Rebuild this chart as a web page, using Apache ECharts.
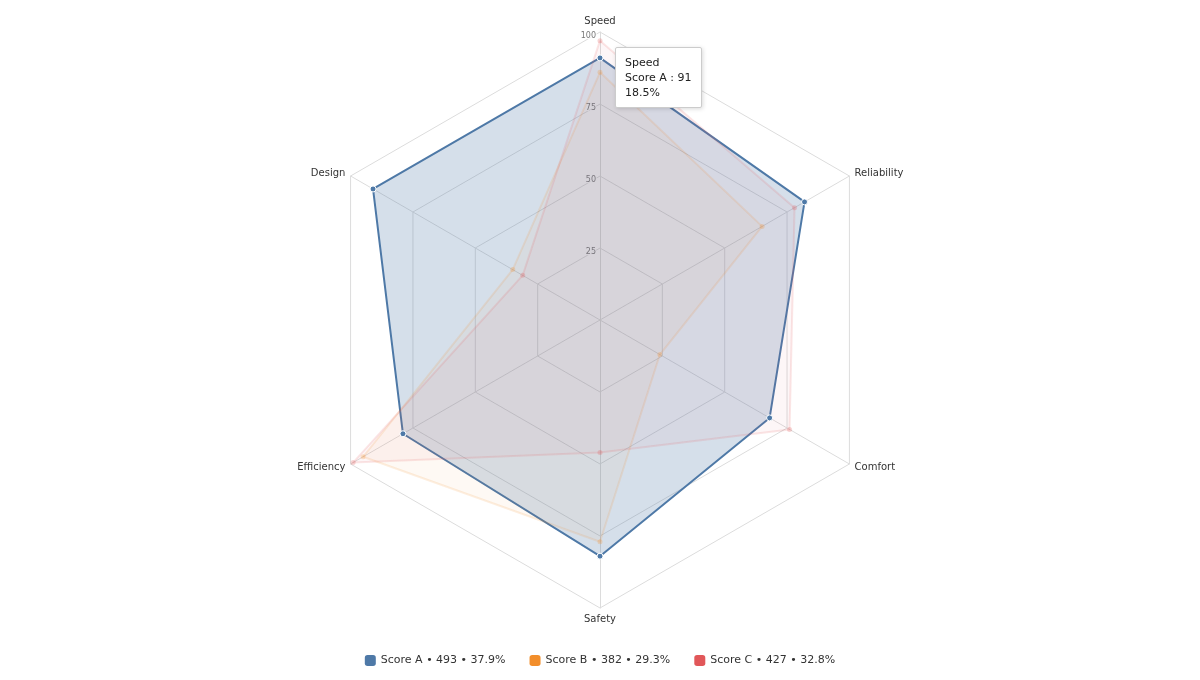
<!DOCTYPE html>
<html>
<head>
<meta charset="utf-8">
<script src="https://cdn.jsdelivr.net/npm/echarts@6/dist/echarts.min.js"></script>
<style>
  html, body { margin: 0; padding: 0; background: #fff; }
  #chart { width: 1200px; height: 680px; }
</style>
</head>
<body>
<div id="chart"></div>
<script>
var dom = document.getElementById("chart");
var myChart = echarts.init(dom);

// data (listed counter-clockwise from the top, as ECharts draws radar axes)
var indicators = ['Speed', 'Design', 'Efficiency', 'Safety', 'Comfort', 'Reliability'];
var seriesNames = ['Score A', 'Score B', 'Score C'];
var scoreA = [91, 91, 79, 82, 68, 82];
var scoreB = [86, 35, 95, 77, 24, 65];
var scoreC = [97, 31, 99, 46, 76, 78];
var maxValue = 100;
var colors = ['#4e79a7', '#f28e2b', '#e15759'];

var allScores = [scoreA, scoreB, scoreC];
var totals = allScores.map(function (arr) {
    return arr.reduce(function (a, b) { return a + b; }, 0);
});
var grandTotal = totals.reduce(function (a, b) { return a + b; }, 0);
var font = 'DejaVu Sans, Verdana, sans-serif';

var option = {
    animation: false,
    color: colors,
    textStyle: { fontFamily: font },
    tooltip: {
        trigger: 'item',
        alwaysShowContent: true,
        transitionDuration: 0,
        position: [615, 47],
        backgroundColor: '#fff',
        borderColor: '#cccccc',
        borderWidth: 1,
        padding: [7, 9],
        textStyle: { color: '#222', fontSize: 11, lineHeight: 15, fontFamily: font },
        extraCssText: 'box-shadow: 1px 1px 4px rgba(0,0,0,0.15); border-radius: 2px; line-height:15px;',
        formatter: function (p) {
            var i = 0;
            var v = p.value[i];
            var pct = (v / totals[p.dataIndex] * 100).toFixed(1);
            return indicators[i] + '<br/>' + p.name + ' : ' + v + '<br/>' + pct + '%';
        }
    },
    legend: {
        bottom: 9,
        left: 'center',
        icon: 'roundRect',
        itemWidth: 11,
        itemHeight: 11,
        itemGap: 24,
        textStyle: { color: '#333', fontSize: 11 },
        formatter: function (name) {
            var i = seriesNames.indexOf(name);
            return name + ' \u2022 ' + totals[i] + ' \u2022 ' + (totals[i] / grandTotal * 100).toFixed(1) + '%';
        },
        data: seriesNames.map(function (n, i) {
            return { name: n, itemStyle: { color: colors[i], opacity: 1, borderWidth: 0 } };
        })
    },
    radar: {
        center: ['50%', 320],
        radius: 288,
        startAngle: 90,
        shape: 'polygon',
        splitNumber: 4,
        nameGap: 6,
        axisName: { color: '#333', fontSize: 10 },
        indicator: indicators.map(function (n, i) {
            var ind = { name: n, min: 0, max: maxValue };
            if (i > 0) ind.axisLabel = { show: false };
            return ind;
        }),
        splitLine: { lineStyle: { color: '#dcdcdc', width: 1 } },
        splitArea: { show: false },
        axisLine: { lineStyle: { color: '#dcdcdc' } },
        axisLabel: {
            show: true,
            showMinLabel: false,
            fontSize: 8,
            color: '#777',
            margin: 4,
            verticalAlign: 'top',
            textBorderColor: '#fff',
            textBorderWidth: 2
        }
    },
    series: [{
        type: 'radar',
        symbol: 'circle',
        symbolSize: 6,
        data: [
            {
                name: seriesNames[0],
                value: scoreA,
                lineStyle: { color: colors[0], width: 2 },
                itemStyle: { color: colors[0], borderColor: '#fff', borderWidth: 1 },
                areaStyle: { color: colors[0], opacity: 0.24 }
            },
            {
                name: seriesNames[1],
                value: scoreB,
                symbolSize: 5,
                lineStyle: { color: colors[1], width: 2, opacity: 0.15 },
                itemStyle: { color: colors[1], opacity: 0.25, borderWidth: 0 },
                areaStyle: { color: colors[1], opacity: 0.05 }
            },
            {
                name: seriesNames[2],
                value: scoreC,
                symbolSize: 5,
                lineStyle: { color: colors[2], width: 2, opacity: 0.15 },
                itemStyle: { color: colors[2], opacity: 0.25, borderWidth: 0 },
                areaStyle: { color: colors[2], opacity: 0.05 }
            }
        ]
    }]
};

if (option && typeof option === 'object') {
    myChart.setOption(option);
    myChart.dispatchAction({ type: 'showTip', seriesIndex: 0, dataIndex: 0 });
}
</script>
</body>
</html>
